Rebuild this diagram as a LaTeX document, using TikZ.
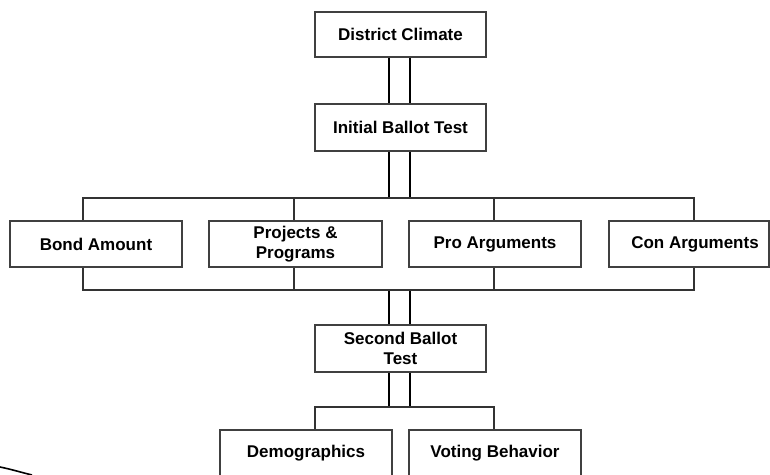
\documentclass[tikz,border=0pt]{standalone}
\usepackage{fontspec}
\setmainfont{Liberation Sans}
\begin{document}
\begin{tikzpicture}[x=1pt,y=-1pt,
  box/.style={draw=black!75, line width=1.3pt, fill=white, minimum width=172pt, minimum height=46pt,
    inner sep=0pt, align=center, font=\fontsize{17}{20}\selectfont\bfseries},
  dbl/.style={draw=black, line width=2pt},
  brk/.style={draw=black!80, line width=1.3pt}]
\clip (0,0) rectangle (770,474);
\fill[white] (0,0) rectangle (770,474);
% nodes
\node[box, minimum width=171pt, minimum height=45pt] (dc) at (400.5,34.5) {District Climate};
\node[box, minimum width=171pt, minimum height=47pt] (ibt) at (400.5,127.5) {Initial Ballot Test};
\node[box] (bond) at (96,244) {Bond Amount};
\node[box, minimum width=173pt] (proj) at (295.5,244) {Projects \&\\Programs};
\node[box] (pro) at (495,244) {Pro Arguments};
\node[box, minimum width=160pt] (con) at (689,244) {\hspace*{12pt}Con Arguments};
\node[box, minimum width=171pt, minimum height=47pt] (sbt) at (400.5,348.5) {Second Ballot\\Test};
\node[box] (demo) at (306,453) {Demographics};
\node[box] (vote) at (495,453) {Voting Behavior};
% junction coordinates
\coordinate (top) at (0,198);
\coordinate (bot) at (0,290);
\coordinate (low) at (0,407);
% double connectors
\foreach \xx in {389,410}{
  \draw[dbl] (dc.south -| \xx,0) -- (ibt.north -| \xx,0);
  \draw[dbl] (ibt.south -| \xx,0) -- (top -| \xx,0);
  \draw[dbl] (bot -| \xx,0) -- (sbt.north -| \xx,0);
  \draw[dbl] (sbt.south -| \xx,0) -- (low -| \xx,0);
}
% top bracket
\draw[brk] (bond.north -| 83,0) -- (top -| 83,0) -- (top -| 694,0) -- (con.north -| 694,0);
\draw[brk] (top -| 294,0) -- (proj.north -| 294,0);
\draw[brk] (top -| 494,0) -- (pro.north -| 494,0);
% bottom bracket
\draw[brk] (bond.south -| 83,0) -- (bot -| 83,0) -- (bot -| 694,0) -- (con.south -| 694,0);
\draw[brk] (bot -| 294,0) -- (proj.south -| 294,0);
\draw[brk] (bot -| 494,0) -- (pro.south -| 494,0);
% lower bracket
\draw[brk] (demo.north -| 315,0) -- (low -| 315,0) -- (low -| 494,0) -- (vote.north -| 494,0);
% stray curve at bottom left
\draw[line width=1.6pt] (0,467) .. controls (10,469) and (20,472) .. (32,475);
\end{tikzpicture}
\end{document}
